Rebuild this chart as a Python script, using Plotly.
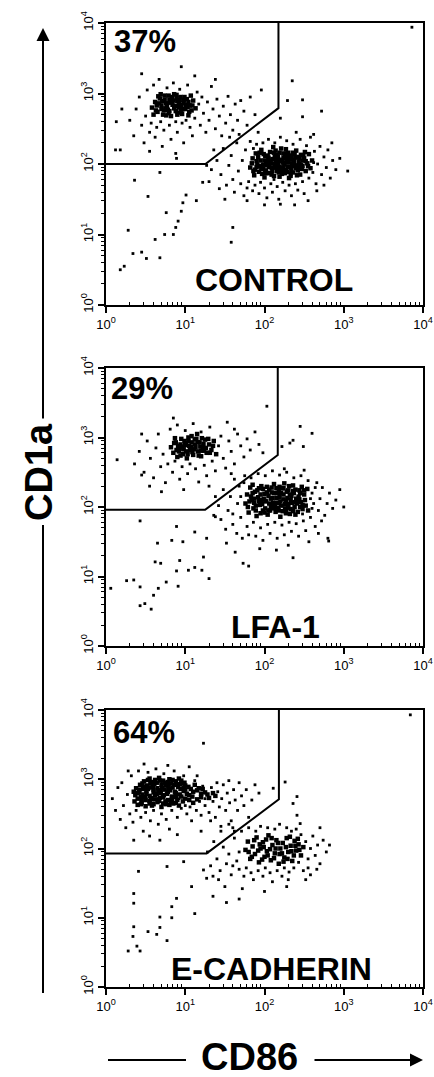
import plotly.graph_objects as go

# ---------------- data (log10 CD86, log10 CD1a) ----------------
panel_names = ["CONTROL", "LFA-1", "E-CADHERIN"]
panel_percent = ["37%", "29%", "64%"]

# gate polygons (CD86, CD1a) in data units
gate_cd86 = [[1, 18, 150, 150], [1, 17.8, 147, 147], [1, 18.6, 152, 152]]
gate_cd1a = [[100, 100, 620, 10000], [91, 91, 560, 10000], [85, 85, 513, 10000]]

# ---- CONTROL ----
control_hi_core = [(0.58,2.80),(0.62,2.88),(0.65,2.74),(0.68,2.93),(0.70,2.83),(0.72,2.70),(0.74,2.97),(0.76,2.86),(0.78,2.77),(0.80,2.91),(0.82,2.68),(0.84,2.84),(0.86,2.99),(0.88,2.75),(0.90,2.89),(0.92,2.80),(0.94,2.95),(0.96,2.71),(0.98,2.86),(1.00,2.78),(1.02,2.92),(1.04,2.69),(1.06,2.83),(1.08,2.76),(1.10,2.90),(1.13,2.79),(0.60,2.70),(0.66,2.96),(0.71,2.89),(0.75,2.79),(0.79,2.72),(0.83,2.95),(0.87,2.82),(0.91,2.73),(0.95,2.84),(0.99,2.95),(1.03,2.81),(1.07,2.97),(0.64,2.83),(0.73,2.76),(0.81,2.87),(0.89,2.98),(0.97,2.78),(1.05,2.74),(0.85,2.90),
                   (0.63,2.76),(0.67,2.86),(0.70,2.78),(0.74,2.91),(0.77,2.82),(0.80,2.75),(0.83,2.89),(0.86,2.79),(0.89,2.93),(0.92,2.85),(0.95,2.77),(0.98,2.91),(1.01,2.84),(1.04,2.88),(0.69,2.99),(0.79,2.97),(0.93,2.91),(0.76,2.69),(0.90,2.70),(1.09,2.83)]
control_hi_halo = [(0.30,2.62),(0.35,2.40),(0.38,2.78),(0.42,2.95),(0.45,2.55),(0.48,2.30),(0.50,2.68),(0.52,3.05),(0.55,2.45),(0.57,2.58),(0.60,3.12),(0.62,2.38),(0.64,2.52),(0.67,3.20),(0.69,2.60),(0.71,2.25),(0.73,2.48),(0.77,3.08),(0.80,2.55),(0.82,2.35),(0.85,3.15),(0.88,2.60),(0.90,2.45),(0.93,3.06),(0.96,2.58),(0.98,2.30),(1.01,2.62),(1.03,3.12),(1.06,2.52),(1.09,2.40),(1.12,2.65),(1.15,3.02),(1.17,2.85),(1.19,2.55),(1.21,2.95),(1.23,2.72),(1.26,2.45),(1.28,2.88),(1.30,2.62),(1.33,3.10),(1.35,2.78),(1.38,2.50),(1.40,2.92),(1.43,2.68),(1.46,2.40),(1.48,2.82),(1.51,2.58),(1.54,2.96),(1.57,2.70),(1.60,2.48),(1.63,2.85),(1.66,2.62),(1.70,2.90),(1.74,2.75),(1.78,2.55),(1.82,2.95),(1.88,2.70),(1.96,3.05),(0.20,2.78),(0.13,2.60),(0.45,3.28),(0.95,3.38),(1.12,3.25),(1.38,3.20),(2.29,2.90),(2.48,2.91),(2.35,3.18),(2.72,2.75),(2.20,2.65),(2.48,2.67),(0.12,2.20),(0.55,2.18),(0.88,2.15),(3.86,3.94)]
control_lo_core = [(1.82,1.95),(1.85,2.08),(1.87,1.84),(1.89,2.15),(1.91,1.99),(1.93,1.89),(1.95,2.05),(1.96,2.20),(1.98,1.93),(2.00,1.81),(2.01,2.11),(2.03,1.98),(2.04,2.03),(2.06,1.87),(2.07,2.17),(2.09,1.94),(2.10,2.07),(2.12,1.83),(2.13,2.00),(2.15,2.13),(2.16,1.90),(2.18,2.04),(2.19,1.96),(2.21,2.22),(2.22,1.86),(2.24,2.09),(2.25,1.99),(2.27,1.92),(2.28,2.15),(2.30,2.02),(2.31,1.80),(2.33,1.95),(2.34,2.11),(2.36,1.88),(2.37,2.06),(2.39,1.98),(2.40,2.19),(2.42,1.91),(2.43,2.03),(2.45,1.85),(2.46,2.13),(2.48,1.97),(2.50,2.08),(2.52,1.90),(2.54,2.01),(2.56,2.14),(2.58,1.94),(2.60,2.05),(1.84,2.01),(1.88,1.92),(1.92,2.10),(1.94,1.97),(1.97,1.86),(1.99,2.14),(2.02,1.91),(2.05,2.09),(2.08,2.01),(2.11,1.95),(2.14,2.19),(2.17,1.99),(2.20,1.93),(2.23,2.02),(2.26,2.12),(2.29,1.89),(2.32,2.07),(2.35,1.97),(2.38,2.14),(2.41,1.84),(2.44,2.08),(2.47,1.93),(2.51,2.17),(2.55,1.97),(2.11,2.24),(2.27,2.21),(2.19,1.82),(2.06,1.96),(2.35,2.01),(2.23,1.95),(2.14,2.05),(2.30,2.16),(2.00,2.05),(2.44,2.00),(2.17,2.10),(2.26,1.87),
                   (1.86,1.90),(1.90,2.04),(1.94,2.16),(1.98,1.99),(2.01,1.87),(2.04,2.12),(2.07,2.04),(2.10,1.90),(2.13,2.10),(2.16,1.97),(2.19,2.16),(2.22,2.06),(2.25,1.92),(2.28,2.03),(2.31,2.12),(2.34,1.91),(2.37,2.00),(2.40,1.94),(2.43,2.10),(2.46,1.99),(2.49,2.12),(2.52,2.04),(1.96,1.94),(2.02,2.00),(2.09,1.85),(2.15,1.95),(2.21,1.89),(2.27,2.08),(2.33,1.86),(2.39,2.09),(2.45,1.95),(2.05,2.05),(2.12,2.16),(2.18,1.88),(2.24,2.15),(2.30,1.96),(2.36,2.16),(2.42,1.97),(2.48,2.05),(1.90,1.96)]
control_lo_halo = [(1.40,2.05),(1.45,1.85),(1.48,2.22),(1.52,1.70),(1.55,1.98),(1.58,2.12),(1.60,1.78),(1.62,1.60),(1.65,2.30),(1.67,1.90),(1.70,1.72),(1.72,2.05),(1.74,1.55),(1.76,2.20),(1.78,1.66),(1.80,1.75),(1.82,2.32),(1.85,1.62),(1.88,1.70),(1.90,2.28),(1.93,1.58),(1.95,1.74),(1.98,2.30),(2.00,1.66),(2.03,1.52),(2.05,2.35),(2.08,1.72),(2.10,1.60),(2.13,2.30),(2.16,1.68),(2.18,1.50),(2.20,2.38),(2.23,1.74),(2.26,1.62),(2.28,2.33),(2.31,1.70),(2.34,1.55),(2.36,2.28),(2.39,1.72),(2.42,1.63),(2.45,2.35),(2.48,1.75),(2.50,1.58),(2.53,2.26),(2.56,1.80),(2.58,2.38),(2.61,1.88),(2.63,2.18),(2.65,1.72),(2.67,2.00),(2.70,2.25),(2.72,1.85),(2.75,2.10),(2.78,1.95),(2.80,2.20),(2.83,1.80),(2.86,2.05),(2.90,1.92),(2.95,2.08),(3.05,1.90),(1.68,2.42),(1.92,2.45),(2.40,2.45),(2.62,2.42),(2.20,1.43),(2.38,1.42),(1.43,1.65),(1.50,1.50),(1.33,1.92),(1.36,2.20),(2.66,1.62),(2.55,1.48),(2.00,1.42),(1.78,1.48),(2.75,1.70),(2.85,2.30),(1.56,2.38),(1.27,1.98),(1.30,1.75),(2.12,1.78),(2.34,1.82),(2.62,2.02),(1.86,2.22)]
control_tail = [(0.28,1.06),(0.34,0.73),(0.45,0.75),(0.18,0.50),(0.53,1.54),(0.68,1.88),(0.76,1.31),(0.85,1.00),(0.91,1.19),(0.95,1.33),(1.01,1.56),(0.74,1.00),(0.62,0.93),(0.68,0.67),(0.51,0.66),(1.60,1.10),(1.58,0.89),(0.89,2.08),(0.36,1.77),(0.18,2.20),(1.14,1.48),(1.22,1.74),(0.88,1.10),(0.97,1.45),(0.23,0.55)]

# ---- LFA-1 ----
lfa_hi_core = [(0.82,2.86),(0.85,2.78),(0.88,2.93),(0.90,2.72),(0.93,2.84),(0.95,2.98),(0.97,2.76),(1.00,2.89),(1.02,2.70),(1.04,2.95),(1.06,2.82),(1.08,3.02),(1.10,2.75),(1.12,2.90),(1.14,2.98),(1.16,2.80),(1.18,2.93),(1.20,2.73),(1.22,2.86),(1.25,2.97),(1.27,2.78),(1.30,2.90),(1.33,2.82),(1.36,2.95),(1.39,2.76),(0.87,2.99),(0.92,2.80),(0.99,2.95),(1.05,2.88),(1.11,2.83),(1.15,3.05),(1.19,2.87),(1.24,2.81),(1.29,2.98),(0.96,2.87),(1.08,2.93),(1.17,2.74),(1.01,2.80),
               (0.86,2.92),(0.89,2.82),(0.94,2.90),(0.98,2.83),(1.01,2.92),(1.03,2.76),(1.07,2.86),(1.09,2.79),(1.13,2.86),(1.16,2.93),(1.20,2.81),(1.23,2.91),(1.26,2.85),(1.31,2.78),(1.35,2.88),(1.12,2.97),(0.94,2.74),(1.04,3.00),(1.21,2.99),(0.91,2.88)]
lfa_hi_halo = [(0.36,2.62),(0.42,2.80),(0.48,2.50),(0.52,2.95),(0.56,2.70),(0.60,2.42),(0.63,2.85),(0.66,3.05),(0.69,2.58),(0.72,2.76),(0.75,2.35),(0.78,2.62),(0.81,3.12),(0.84,2.50),(0.87,2.66),(0.90,3.18),(0.93,2.40),(0.96,2.58),(1.00,3.10),(1.03,2.48),(1.06,2.62),(1.10,3.20),(1.13,2.55),(1.17,2.36),(1.20,3.08),(1.24,2.60),(1.27,2.45),(1.31,3.15),(1.34,2.66),(1.38,2.52),(1.42,2.88),(1.45,3.02),(1.48,2.70),(1.51,2.56),(1.55,2.95),(1.58,2.80),(1.62,2.62),(1.66,3.05),(1.70,2.88),(1.74,2.72),(1.78,2.98),(1.82,2.82),(1.88,3.08),(1.93,2.90),(1.98,2.78),(2.03,3.45),(0.70,2.22),(0.98,2.25),(1.30,2.30),(0.55,2.30),(0.45,3.05),(0.14,2.68),(0.45,2.46),(2.22,2.87),(2.36,2.96),(2.45,3.16),(2.60,3.06),(2.49,2.87),(2.32,2.92),(1.53,3.22),(0.85,3.28),(1.62,3.12)]
lfa_lo_core = [(1.76,2.05),(1.78,2.18),(1.80,1.92),(1.82,2.28),(1.84,2.10),(1.86,1.98),(1.88,2.22),(1.90,1.87),(1.92,2.14),(1.94,2.03),(1.96,2.30),(1.98,1.95),(2.00,2.19),(2.02,2.08),(2.04,1.89),(2.06,2.25),(2.08,2.00),(2.10,2.13),(2.12,2.33),(2.14,1.93),(2.16,2.20),(2.18,2.06),(2.20,1.86),(2.22,2.27),(2.24,2.11),(2.26,1.98),(2.28,2.22),(2.30,2.04),(2.32,1.90),(2.34,2.16),(2.36,2.31),(2.38,2.00),(2.40,2.12),(2.42,1.93),(2.44,2.24),(2.46,2.07),(2.48,1.97),(2.50,2.18),(2.52,2.02),(2.54,2.26),(1.79,2.00),(1.83,2.15),(1.87,2.06),(1.91,2.24),(1.95,1.91),(1.99,2.12),(2.03,2.29),(2.07,1.95),(2.11,2.06),(2.15,2.27),(2.19,2.14),(2.23,1.94),(2.27,2.09),(2.31,2.30),(2.35,2.06),(2.39,1.89),(2.43,2.15),(2.47,2.29),(2.51,2.10),(1.85,2.32),(1.97,2.04),(2.05,2.16),(2.13,2.01),(2.21,2.20),(2.29,2.13),(2.37,2.20),(2.45,2.00),(2.01,1.98),(2.09,2.21),(2.17,1.99),(2.25,2.34),(2.33,1.97),(2.41,2.05),(1.93,2.09),(2.19,2.29),(2.27,1.91),(2.55,1.95),(1.89,1.95),
               (1.81,2.08),(1.85,2.20),(1.89,2.02),(1.93,2.27),(1.96,2.10),(2.00,1.92),(2.03,2.21),(2.06,2.05),(2.09,2.28),(2.12,1.98),(2.15,2.13),(2.18,2.24),(2.21,2.02),(2.24,2.18),(2.27,1.96),(2.30,2.24),(2.33,2.10),(2.36,1.94),(2.39,2.25),(2.42,2.09),(2.45,2.20),(2.48,2.03),(1.87,2.12),(1.95,2.18),(2.01,2.09),(2.08,2.12),(2.14,2.06),(2.20,2.08),(2.26,2.04),(2.32,2.18),(2.38,2.07),(2.44,2.11),(2.50,2.24),(1.98,2.26),(2.12,2.20),(2.24,2.27),(2.36,2.23),(2.05,1.95),(2.18,1.95),(2.30,1.99)]
lfa_lo_halo = [(1.42,2.02),(1.45,1.82),(1.48,2.25),(1.51,1.68),(1.54,1.95),(1.57,2.15),(1.60,1.75),(1.62,2.40),(1.65,1.62),(1.68,2.30),(1.70,1.85),(1.72,1.55),(1.75,2.45),(1.78,1.72),(1.80,1.60),(1.83,2.42),(1.86,1.78),(1.89,1.58),(1.92,2.48),(1.95,1.70),(1.98,1.52),(2.01,2.45),(2.04,1.75),(2.07,1.62),(2.10,2.52),(2.13,1.78),(2.16,1.55),(2.19,2.46),(2.22,1.74),(2.25,1.60),(2.28,2.50),(2.31,1.78),(2.34,1.65),(2.37,2.42),(2.40,1.76),(2.43,1.58),(2.46,2.45),(2.49,1.80),(2.52,1.66),(2.55,2.38),(2.58,1.85),(2.60,2.20),(2.62,2.05),(2.64,1.72),(2.66,2.35),(2.68,1.95),(2.70,2.12),(2.73,2.28),(2.76,1.88),(2.79,2.05),(2.82,2.20),(2.86,1.98),(2.90,2.10),(2.95,2.25),(3.00,2.00),(1.58,2.48),(2.25,2.55),(2.50,2.53),(2.68,1.62),(1.38,2.15),(1.36,1.88),(1.52,1.48),(1.94,1.40),(2.30,1.45),(2.56,1.50),(2.80,1.55),(1.66,2.05),(1.70,2.15),(2.60,1.98),(2.64,2.28),(2.72,1.80),(1.60,1.90),(1.74,2.35),(2.58,2.12),(2.48,1.90)]
lfa_tail = [(0.06,0.83),(0.26,0.94),(0.35,0.95),(0.43,0.85),(0.43,0.58),(0.49,0.61),(0.57,0.53),(0.60,0.73),(0.66,0.83),(0.62,1.21),(0.69,1.19),(0.76,0.92),(0.89,1.08),(0.91,0.86),(0.93,1.23),(1.04,1.09),(1.12,1.13),(1.21,1.09),(1.30,0.97),(0.97,1.50),(0.89,1.72),(1.12,1.64),(1.27,1.55),(1.38,1.86),(0.65,1.48),(0.43,1.80),(0.83,1.52),(1.23,1.28),(1.73,1.19),(1.80,1.15),(2.15,1.38),(2.36,1.27),(2.81,1.51),(1.63,1.35)]

# ---- E-CADHERIN ----
ecad_hi_core = [(0.40,2.63),(0.50,2.61),(0.60,2.64),(0.70,2.60),(0.80,2.63),(0.92,2.62),(0.36,2.68),(0.45,2.66),(0.55,2.69),(0.65,2.67),(0.75,2.68),(0.85,2.65),(0.97,2.68),(1.10,2.66),(0.40,2.72),(0.49,2.74),(0.58,2.71),(0.68,2.73),(0.78,2.70),(0.88,2.74),(1.00,2.72),(1.15,2.71),(1.30,2.73),(0.37,2.77),(0.46,2.78),(0.55,2.76),(0.64,2.79),(0.73,2.77),(0.83,2.75),(0.93,2.78),(1.05,2.77),(1.20,2.79),(1.38,2.76),(0.42,2.82),(0.51,2.83),(0.60,2.81),(0.69,2.84),(0.78,2.82),(0.88,2.80),(0.98,2.83),(1.10,2.82),(1.25,2.81),(0.38,2.87),(0.47,2.86),(0.56,2.88),(0.65,2.87),(0.74,2.85),(0.84,2.88),(0.94,2.86),(1.04,2.89),(1.17,2.87),(0.43,2.92),(0.52,2.91),(0.61,2.93),(0.70,2.92),(0.79,2.90),(0.89,2.93),(1.00,2.91),(1.12,2.92),(0.48,2.97),(0.58,2.96),(0.68,2.98),(0.78,2.96),(0.88,2.97),(0.99,2.95),(0.55,3.01),(0.67,3.02),(0.80,3.00),(0.92,3.01),(0.45,2.70),(0.63,2.71),(0.83,2.70),(0.51,2.79),(0.69,2.80),(0.88,2.77),(0.42,2.85),(0.60,2.85),(0.79,2.86),(0.98,2.88),(0.56,2.94),(0.74,2.95),(0.93,2.93),(0.62,2.99),(0.84,2.99),(0.55,2.65),(0.76,2.64),(1.05,2.70),(1.15,2.84),(0.35,2.82),
                (0.40,2.80),(0.44,2.75),(0.48,2.89),(0.50,2.70),(0.53,2.86),(0.57,2.73),(0.59,2.90),(0.62,2.77),(0.66,2.83),(0.67,2.69),(0.71,2.88),(0.72,2.74),(0.76,2.91),(0.77,2.79),(0.81,2.84),(0.82,2.67),(0.86,2.92),(0.87,2.82),(0.90,2.70),(0.91,2.89),(0.95,2.75),(0.96,2.94),(1.00,2.85),(1.02,2.79),(1.07,2.86),(1.09,2.75),(0.46,2.94),(0.53,2.99),(0.64,2.95),(0.72,2.98),(0.82,2.94),(0.95,2.98),(0.44,2.64),(0.58,2.62),(0.72,2.65),(0.88,2.66),(1.20,2.74),(1.28,2.78),(1.35,2.80),(1.22,2.86)]
ecad_hi_halo = [(0.08,2.72),(0.12,2.55),(0.15,2.88),(0.18,2.42),(0.20,2.95),(0.22,2.62),(0.25,2.30),(0.27,2.78),(0.30,2.50),(0.32,3.05),(0.34,2.38),(0.38,2.55),(0.41,3.12),(0.44,2.45),(0.47,2.25),(0.50,2.52),(0.53,3.10),(0.56,2.40),(0.60,2.55),(0.63,3.15),(0.66,2.35),(0.70,2.50),(0.73,3.08),(0.76,2.42),(0.80,2.28),(0.83,2.55),(0.86,3.12),(0.90,2.45),(0.95,2.58),(0.98,3.05),(1.02,2.50),(1.06,2.60),(1.08,2.40),(1.12,2.98),(1.14,2.55),(1.18,2.68),(1.20,2.48),(1.22,2.90),(1.25,2.62),(1.28,2.78),(1.30,2.52),(1.33,2.88),(1.35,2.68),(1.38,2.45),(1.41,2.82),(1.43,2.60),(1.46,2.72),(1.48,2.92),(1.51,2.55),(1.53,2.80),(1.56,2.66),(1.58,2.40),(1.61,2.85),(1.63,2.70),(1.66,2.55),(1.68,2.95),(1.71,2.76),(1.74,2.62),(1.77,2.85),(1.80,2.45),(1.84,2.70),(1.88,2.92),(1.93,2.80),(0.55,2.18),(0.90,2.20),(1.20,2.25),(0.35,2.12),(0.68,2.12),(1.45,2.32),(1.62,2.25),(0.28,3.12),(0.48,3.22),(0.78,3.20),(1.05,3.18),(1.23,3.52),(0.92,2.72),(1.25,2.72),(1.40,2.95),(1.00,2.62),(2.26,2.96),(2.11,2.87),(2.41,2.75),(2.41,2.48),(2.36,2.65),(3.84,3.93),(1.15,3.05),(1.32,2.40),(1.55,2.98)]
ecad_lo_core = [(1.76,1.98),(1.79,2.10),(1.82,1.85),(1.85,2.03),(1.88,1.92),(1.90,2.16),(1.93,1.80),(1.95,2.00),(1.98,2.09),(2.00,1.88),(2.03,1.96),(2.05,2.19),(2.08,1.83),(2.10,2.05),(2.13,1.93),(2.15,2.12),(2.18,1.78),(2.20,2.00),(2.23,2.08),(2.25,1.87),(2.28,2.15),(2.30,1.95),(2.33,2.04),(2.35,1.82),(2.38,2.11),(2.40,1.97),(2.43,2.06),(2.46,1.90),(2.49,2.02),(1.80,1.95),(1.87,2.12),(1.92,1.97),(1.97,1.84),(2.02,2.13),(2.07,1.99),(2.12,1.86),(2.17,2.08),(2.22,1.93),(2.27,2.02),(2.32,2.17),(2.37,1.90),(2.42,2.14),(1.84,1.88),(1.94,2.06),(2.04,1.90),(2.14,2.00),(2.24,1.81),(2.34,1.96),(2.44,1.98),(1.99,2.02),(2.09,2.15),(2.19,1.92),(2.29,1.85),(2.39,2.04)]
ecad_lo_halo = [(1.28,1.95),(1.32,1.75),(1.36,2.10),(1.40,1.85),(1.44,1.68),(1.48,2.02),(1.52,1.78),(1.55,1.92),(1.58,1.62),(1.62,2.15),(1.65,1.82),(1.68,1.70),(1.71,2.25),(1.74,1.60),(1.77,1.72),(1.80,2.30),(1.83,1.65),(1.86,1.55),(1.89,2.25),(1.92,1.68),(1.95,2.32),(1.98,1.60),(2.01,1.72),(2.04,2.30),(2.07,1.65),(2.10,1.52),(2.13,2.28),(2.16,1.68),(2.19,2.35),(2.22,1.60),(2.25,1.72),(2.28,2.30),(2.31,1.66),(2.34,2.25),(2.37,1.72),(2.40,2.28),(2.43,1.80),(2.46,2.20),(2.49,1.68),(2.52,2.10),(2.55,1.85),(2.58,2.00),(2.61,2.18),(2.64,1.90),(2.67,2.05),(2.70,1.78),(2.74,2.12),(2.78,1.95),(2.82,2.05),(1.45,2.25),(1.60,2.30),(1.35,1.60),(1.50,1.45),(1.72,1.42),(2.00,1.38),(2.28,1.45),(2.52,1.55),(2.66,1.70),(2.70,2.30),(2.58,1.62),(1.42,1.55),(1.55,2.35),(2.45,2.36),(1.68,1.95),(2.55,1.72),(1.60,1.75),(2.30,1.55)]
ecad_tail = [(0.41,1.67),(0.35,1.35),(0.35,1.21),(0.35,0.87),(0.34,0.73),(0.39,0.59),(0.28,0.52),(0.43,0.52),(0.53,0.80),(0.64,0.76),(0.68,0.86),(0.68,1.01),(0.77,0.67),(0.83,1.00),(0.83,1.16),(0.89,1.28),(0.77,1.74),(0.98,1.81),(1.08,1.45),(1.12,1.06),(1.35,1.31),(1.52,1.22),(1.68,1.27),(1.27,1.57),(1.23,1.69)]

panels = [
    dict(core=control_hi_core + control_lo_core, halo=control_hi_halo + control_lo_halo + control_tail),
    dict(core=lfa_hi_core + lfa_lo_core, halo=lfa_hi_halo + lfa_lo_halo + lfa_tail),
    dict(core=ecad_hi_core + ecad_lo_core, halo=ecad_hi_halo + ecad_lo_halo + ecad_tail),
]

decade_vals = [1, 10, 100, 1000, 10000]
decade_text = ["10<sup>0</sup>", "10<sup>1</sup>", "10<sup>2</sup>", "10<sup>3</sup>", "10<sup>4</sup>"]
minor_vals = [k * 10 ** d for d in range(4) for k in range(2, 10)]

# ---------------- layout geometry (pixels) ----------------
W, H = 434, 1077
box_left, box_right = 106, 423
box_tb = [(23, 305), (368, 646), (710, 987)]
FONT = "Liberation Sans, Arial, Helvetica, sans-serif"

def px(x):
    return x / W

def py(y):
    return 1 - y / H

fig = go.Figure()

for i, p in enumerate(panels):
    n = "" if i == 0 else str(i + 1)
    xa, ya = "x" + n, "y" + n
    for key, size in (("halo", 2.8), ("core", 4.5)):
        pts = p[key]
        fig.add_trace(go.Scatter(
            x=[10 ** a for a, b in pts], y=[10 ** b for a, b in pts],
            mode="markers", xaxis=xa, yaxis=ya, hoverinfo="skip", showlegend=False,
            marker=dict(symbol="square", size=size, color="black", line=dict(width=0)),
        ))
    fig.add_trace(go.Scatter(
        x=gate_cd86[i], y=gate_cd1a[i], mode="lines", xaxis=xa, yaxis=ya,
        line=dict(color="black", width=2), hoverinfo="skip", showlegend=False,
    ))
    top, bot = box_tb[i]
    common = dict(
        type="log", range=[0, 4], showgrid=False, zeroline=False, automargin=False,
        showline=True, linecolor="black", linewidth=2, mirror=True,
        ticks="outside", ticklen=6, tickwidth=1.5, tickcolor="black",
        tickvals=decade_vals, ticktext=decade_text,
        tickfont=dict(family=FONT, size=13, color="black"),
    )
    fig.update_layout(**{
        "xaxis" + n: dict(common, domain=[px(box_left), px(box_right)], anchor=ya,
                          minor=dict(tickvals=minor_vals, ticks="inside", ticklen=3,
                                     tickwidth=1, tickcolor="black")),
        "yaxis" + n: dict(common, domain=[py(bot), py(top)], anchor=xa, tickangle=-90,
                          minor=dict(tickvals=minor_vals, ticks="outside", ticklen=3,
                                     tickwidth=1, tickcolor="black")),
    })

annotations = []
pct_pos = [(112, 42), (109, 388), (111, 732)]
name_pos = [(274, 280), (275, 627), (271, 969)]
for i in range(3):
    annotations.append(dict(text="<b>%s</b>" % panel_percent[i], xref="paper", yref="paper",
                            x=px(pct_pos[i][0]), y=py(pct_pos[i][1]), xanchor="left", yanchor="middle",
                            showarrow=False, font=dict(family=FONT, size=31, color="black")))
    annotations.append(dict(text="<b>%s</b>" % panel_names[i], xref="paper", yref="paper",
                            x=px(name_pos[i][0]), y=py(name_pos[i][1]), xanchor="center", yanchor="middle",
                            showarrow=False, font=dict(family=FONT, size=32, color="black")))

# axis titles
annotations.append(dict(text="<b>CD1a</b>", xref="paper", yref="paper", x=px(39), y=py(472),
                        textangle=-90, showarrow=False, xanchor="center", yanchor="middle",
                        font=dict(family=FONT, size=38, color="black")))
annotations.append(dict(text="<b>CD86</b>", xref="paper", yref="paper", x=px(249), y=py(1057),
                        showarrow=False, xanchor="center", yanchor="middle",
                        font=dict(family=FONT, size=38, color="black")))
# arrows
annotations.append(dict(text="", xref="paper", yref="paper", x=px(43), y=py(28), ax=0, ay=392,
                        showarrow=True, arrowhead=2, arrowsize=1.3, arrowwidth=2, arrowcolor="black"))
annotations.append(dict(text="", xref="paper", yref="paper", x=px(423), y=py(1060), ax=-110, ay=0,
                        showarrow=True, arrowhead=2, arrowsize=1.3, arrowwidth=2, arrowcolor="black"))

shapes = [
    dict(type="line", xref="paper", yref="paper", x0=px(43), x1=px(43), y0=py(525), y1=py(993),
         line=dict(color="black", width=2)),
    dict(type="line", xref="paper", yref="paper", x0=px(108), x1=px(186), y0=py(1060), y1=py(1060),
         line=dict(color="black", width=2)),
]

fig.update_layout(
    width=W, height=H, autosize=False,
    margin=dict(l=0, r=0, t=0, b=0),
    paper_bgcolor="white", plot_bgcolor="white",
    annotations=annotations, shapes=shapes, showlegend=False,
)

fig.write_html(
    "out.html",
    config={"displayModeBar": False},
    post_script="document.body.style.margin='0px';document.body.style.overflow='hidden';",
)
